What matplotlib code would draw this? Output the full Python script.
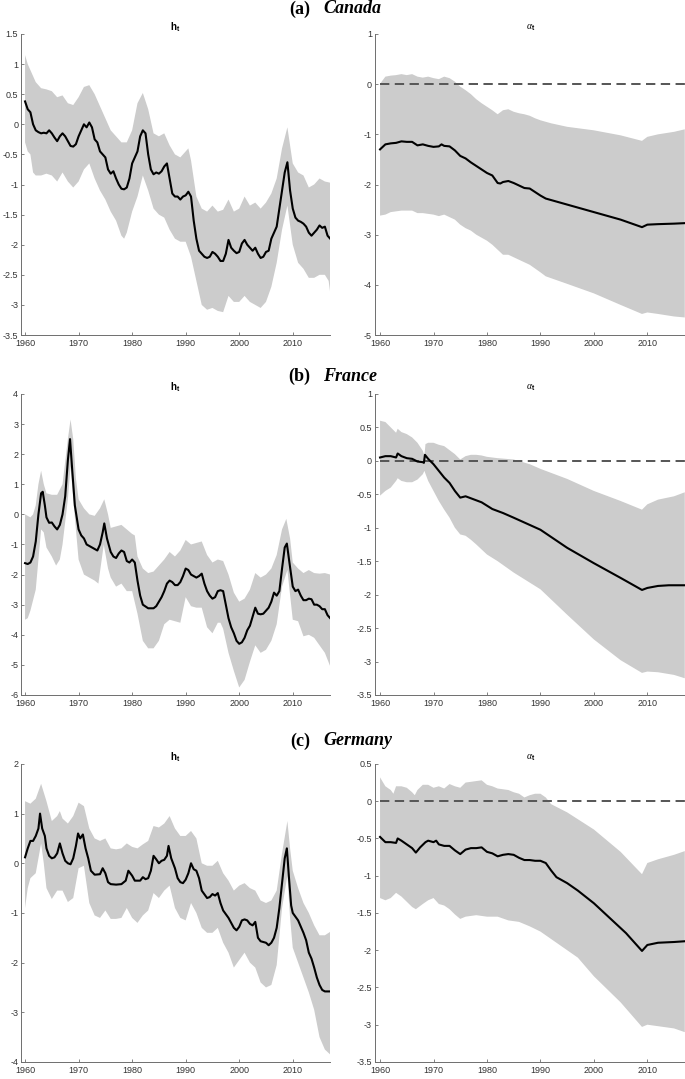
import numpy as np
import matplotlib
matplotlib.use("Agg")
import matplotlib.pyplot as plt

plt.rcParams['font.family'] = ['Liberation Sans', 'DejaVu Sans']
plt.rcParams['axes.unicode_minus'] = False
plt.rcParams['mathtext.fontset'] = 'custom'
plt.rcParams['mathtext.rm'] = 'Liberation Serif:italic'
plt.rcParams['mathtext.it'] = 'Liberation Serif:italic'
plt.rcParams['mathtext.sf'] = 'Liberation Sans:bold'
plt.rcParams['mathtext.bf'] = 'Liberation Sans:bold'

# ---- data: (year, value) ----
can_h_med = [(1960, 0.38), (1960.5, 0.25), (1961, 0.2), (1961.5, 0.0), (1962, -0.1), (1962.5, -0.13),
             (1963, -0.15), (1963.5, -0.14), (1964, -0.15), (1964.5, -0.1), (1965, -0.15), (1965.5, -0.22),
             (1966, -0.28), (1966.5, -0.2), (1967, -0.15), (1967.5, -0.2), (1968, -0.28), (1968.5, -0.36),
             (1969, -0.37), (1969.5, -0.33), (1970, -0.2), (1970.5, -0.1), (1971, 0.0), (1971.5, -0.05),
             (1972, 0.03), (1972.5, -0.05), (1973, -0.25), (1973.5, -0.3), (1974, -0.45), (1975, -0.55),
             (1975.5, -0.75), (1976, -0.82), (1976.5, -0.78), (1977, -0.9), (1977.5, -1.0), (1978, -1.07),
             (1978.5, -1.08), (1979, -1.05), (1979.5, -0.9), (1980, -0.65), (1980.5, -0.55), (1981, -0.45),
             (1981.5, -0.2), (1982, -0.1), (1982.5, -0.15), (1983, -0.5), (1983.5, -0.75), (1984, -0.83),
             (1984.5, -0.8), (1985, -0.82), (1985.5, -0.78), (1986, -0.7), (1986.5, -0.65), (1987, -0.9),
             (1987.5, -1.15), (1988, -1.2), (1988.5, -1.2), (1989, -1.25), (1989.5, -1.2), (1990, -1.18),
             (1990.5, -1.12), (1991, -1.2), (1991.5, -1.6), (1992, -1.9), (1992.5, -2.1), (1993, -2.15),
             (1993.5, -2.2), (1994, -2.22), (1994.5, -2.2), (1995, -2.12), (1995.5, -2.15), (1996, -2.2),
             (1996.5, -2.27), (1997, -2.27), (1997.5, -2.15), (1998, -1.92), (1998.5, -2.05), (1999, -2.1),
             (1999.5, -2.14), (2000, -2.12), (2000.5, -1.98), (2001, -1.92), (2001.5, -2.0), (2002, -2.05),
             (2002.5, -2.1), (2003, -2.05), (2003.5, -2.15), (2004, -2.22), (2004.5, -2.2), (2005, -2.12),
             (2005.5, -2.1), (2006, -1.9), (2006.5, -1.8), (2007, -1.7), (2007.5, -1.4), (2008, -1.1),
             (2008.5, -0.8), (2009, -0.63), (2009.5, -1.1), (2010, -1.4), (2010.5, -1.55), (2011, -1.6),
             (2011.5, -1.62), (2012, -1.65), (2012.5, -1.7), (2013, -1.8), (2013.5, -1.85), (2014, -1.8),
             (2014.5, -1.75), (2015, -1.68), (2015.5, -1.72), (2016, -1.7), (2016.5, -1.85), (2017, -1.9)]
can_h_up = [(1960, 1.15), (1960.5, 1.0), (1961, 0.9), (1962, 0.7), (1963, 0.6), (1964, 0.58), (1965, 0.55),
            (1966, 0.45), (1967, 0.48), (1968, 0.35), (1969, 0.32), (1970, 0.45), (1971, 0.62), (1972, 0.65),
            (1973, 0.5), (1974, 0.3), (1975, 0.1), (1976, -0.1), (1977, -0.2), (1978, -0.3), (1979, -0.3),
            (1980, -0.1), (1981, 0.35), (1982, 0.52), (1983, 0.25), (1984, -0.15), (1985, -0.2), (1986, -0.15),
            (1987, -0.35), (1988, -0.5), (1989, -0.55), (1990, -0.45), (1990.5, -0.4), (1991, -0.6),
            (1992, -1.2), (1993, -1.4), (1994, -1.45), (1995, -1.35), (1996, -1.45), (1997, -1.42),
            (1998, -1.25), (1999, -1.45), (2000, -1.4), (2001, -1.2), (2002, -1.35), (2003, -1.3),
            (2004, -1.4), (2005, -1.3), (2006, -1.15), (2007, -0.9), (2008, -0.4), (2009, -0.05),
            (2010, -0.65), (2011, -0.8), (2012, -0.85), (2013, -1.05), (2014, -1.0), (2015, -0.9),
            (2016, -0.95), (2017, -0.97)]
can_h_lo = [(1960, -0.3), (1960.5, -0.45), (1961, -0.5), (1961.5, -0.8), (1962, -0.85), (1963, -0.85),
            (1964, -0.82), (1965, -0.85), (1966, -0.95), (1967, -0.8), (1968, -0.95), (1969, -1.05),
            (1970, -0.95), (1971, -0.75), (1972, -0.65), (1973, -0.9), (1974, -1.1), (1975, -1.25),
            (1976, -1.45), (1977, -1.6), (1978, -1.85), (1978.5, -1.9), (1979, -1.8), (1980, -1.45),
            (1981, -1.2), (1982, -0.85), (1983, -1.1), (1984, -1.4), (1985, -1.5), (1986, -1.55),
            (1987, -1.75), (1988, -1.9), (1989, -1.95), (1990, -1.95), (1991, -2.2), (1992, -2.6),
            (1993, -3.0), (1994, -3.08), (1995, -3.05), (1996, -3.1), (1997, -3.12), (1998, -2.85),
            (1999, -2.95), (2000, -2.95), (2001, -2.85), (2002, -2.95), (2003, -3.0), (2004, -3.05),
            (2005, -2.95), (2006, -2.7), (2007, -2.3), (2008, -1.75), (2009, -1.35), (2010, -2.0),
            (2011, -2.3), (2012, -2.4), (2013, -2.55), (2014, -2.55), (2015, -2.5), (2016, -2.5),
            (2016.7, -2.6), (2017, -2.8)]

can_a_med = [(1960, -1.3), (1961, -1.2), (1962, -1.18), (1963, -1.17), (1964, -1.14), (1965, -1.15),
             (1966, -1.15), (1967, -1.22), (1968, -1.2), (1969, -1.23), (1970, -1.25), (1971, -1.24),
             (1971.5, -1.2), (1972, -1.23), (1973, -1.24), (1974, -1.32), (1975, -1.43), (1976, -1.48),
             (1977, -1.56), (1978, -1.63), (1979, -1.7), (1980, -1.77), (1981, -1.82), (1982, -1.97),
             (1982.5, -1.98), (1983, -1.95), (1984, -1.93), (1985, -1.97), (1986, -2.02), (1987, -2.07),
             (1988, -2.08), (1989, -2.15), (1990, -2.22), (1991, -2.28), (1995, -2.4), (2000, -2.55),
             (2005, -2.7), (2009, -2.85), (2010, -2.8), (2012, -2.79), (2015, -2.78), (2017, -2.77)]
can_a_up = [(1960, 0.0), (1960.3, 0.05), (1961, 0.15), (1962, 0.17), (1963, 0.18), (1964, 0.2), (1965, 0.18),
            (1966, 0.2), (1967, 0.15), (1968, 0.13), (1969, 0.15), (1970, 0.12), (1971, 0.1), (1972, 0.15),
            (1973, 0.12), (1974, 0.05), (1975, -0.05), (1976, -0.12), (1977, -0.2), (1978, -0.3),
            (1979, -0.38), (1980, -0.45), (1981, -0.52), (1982, -0.6), (1983, -0.52), (1984, -0.5),
            (1985, -0.55), (1986, -0.58), (1987, -0.6), (1988, -0.63), (1989, -0.68), (1990, -0.72),
            (1992, -0.78), (1995, -0.85), (2000, -0.92), (2005, -1.02), (2009, -1.13), (2010, -1.05),
            (2012, -1.0), (2015, -0.95), (2017, -0.9)]
can_a_lo = [(1960, -2.62), (1961, -2.6), (1962, -2.55), (1964, -2.52), (1966, -2.52), (1967, -2.57),
            (1968, -2.57), (1970, -2.6), (1971, -2.63), (1972, -2.6), (1973, -2.65), (1974, -2.7),
            (1975, -2.8), (1976, -2.87), (1977, -2.92), (1978, -3.0), (1980, -3.12), (1981, -3.2),
            (1982, -3.3), (1983, -3.4), (1984, -3.4), (1985, -3.45), (1987, -3.55), (1988, -3.6),
            (1990, -3.75), (1991, -3.83), (1995, -3.98), (2000, -4.17), (2005, -4.4), (2009, -4.58),
            (2010, -4.55), (2012, -4.58), (2015, -4.63), (2017, -4.65)]

fra_h_med = [(1960, -1.62), (1960.5, -1.65), (1961, -1.6), (1961.5, -1.4), (1962, -0.9), (1962.5, 0.0),
             (1963, 0.7), (1963.3, 0.75), (1963.7, 0.3), (1964, -0.1), (1964.5, -0.28), (1965, -0.27),
             (1965.5, -0.4), (1966, -0.5), (1966.5, -0.35), (1967, 0.0), (1967.5, 0.6), (1968, 1.8),
             (1968.4, 2.5), (1968.8, 1.5), (1969.3, 0.3), (1970, -0.5), (1970.5, -0.7), (1971, -0.8),
             (1971.5, -1.0), (1972, -1.05), (1973, -1.15), (1973.5, -1.2), (1974, -1.0), (1974.5, -0.6),
             (1974.8, -0.3), (1975.3, -0.8), (1976, -1.25), (1976.5, -1.4), (1977, -1.45), (1977.5, -1.3),
             (1978, -1.2), (1978.5, -1.25), (1979, -1.55), (1979.5, -1.6), (1980, -1.5), (1980.5, -1.6),
             (1981, -2.2), (1981.5, -2.7), (1982, -3.0), (1983, -3.12), (1984, -3.12), (1984.5, -3.05),
             (1985, -2.9), (1985.5, -2.75), (1986, -2.55), (1986.5, -2.3), (1987, -2.2), (1987.5, -2.25),
             (1988, -2.35), (1988.5, -2.35), (1989, -2.25), (1989.5, -2.05), (1990, -1.8), (1990.5, -1.85),
             (1991, -2.0), (1991.5, -2.05), (1992, -2.1), (1992.5, -2.05), (1993, -1.97), (1993.5, -2.3),
             (1994, -2.55), (1994.5, -2.7), (1995, -2.8), (1995.5, -2.75), (1996, -2.55), (1996.5, -2.52),
             (1997, -2.55), (1997.5, -3.0), (1998, -3.45), (1998.5, -3.75), (1999, -3.95), (1999.5, -4.2),
             (2000, -4.3), (2000.5, -4.25), (2001, -4.1), (2001.5, -3.85), (2002, -3.7), (2002.5, -3.4),
             (2003, -3.1), (2003.5, -3.3), (2004, -3.32), (2004.5, -3.3), (2005, -3.2), (2005.5, -3.1),
             (2006, -2.9), (2006.5, -2.6), (2007, -2.7), (2007.5, -2.55), (2008, -1.8), (2008.5, -1.1),
             (2008.9, -0.97), (2009.3, -1.5), (2010, -2.4), (2010.5, -2.55), (2011, -2.5), (2011.5, -2.7),
             (2012, -2.85), (2012.5, -2.85), (2013, -2.8), (2013.5, -2.82), (2014, -3.0), (2014.5, -3.0),
             (2015, -3.05), (2015.5, -3.15), (2016, -3.15), (2016.5, -3.35), (2017, -3.45)]
fra_h_up = [(1960, 0.0), (1961, -0.1), (1961.5, 0.0), (1962, 0.3), (1962.5, 1.0), (1963, 1.45), (1963.5, 1.0),
            (1964, 0.7), (1965, 0.65), (1966, 0.65), (1967, 1.0), (1968, 2.5), (1968.5, 3.15), (1969, 2.5),
            (1969.5, 1.2), (1970, 0.5), (1971, 0.2), (1972, 0.0), (1973, -0.05), (1974, 0.2), (1974.8, 0.5),
            (1975.5, 0.0), (1976, -0.45), (1977, -0.4), (1978, -0.35), (1979, -0.5), (1980, -0.65),
            (1980.5, -0.7), (1981, -1.4), (1982, -1.8), (1983, -1.95), (1984, -1.9), (1985, -1.7),
            (1986, -1.5), (1987, -1.25), (1988, -1.4), (1989, -1.2), (1990, -0.85), (1991, -1.0),
            (1992, -0.95), (1993, -0.9), (1994, -1.35), (1995, -1.6), (1996, -1.5), (1997, -1.55),
            (1998, -2.0), (1999, -2.6), (2000, -2.9), (2001, -2.8), (2002, -2.5), (2003, -1.95),
            (2004, -2.1), (2005, -2.0), (2006, -1.8), (2007, -1.35), (2008, -0.5), (2008.8, -0.15),
            (2009.5, -0.8), (2010, -1.6), (2011, -1.8), (2012, -1.95), (2013, -1.85), (2014, -1.95),
            (2015, -1.97), (2016, -1.95), (2017, -2.0)]
fra_h_lo = [(1960, -3.5), (1960.5, -3.45), (1961, -3.2), (1962, -2.5), (1963, -0.5), (1963.5, -0.6),
            (1964, -1.1), (1965, -1.4), (1965.8, -1.7), (1966.5, -1.5), (1967, -1.0), (1968, 0.5),
            (1968.5, 1.6), (1969, 0.5), (1970, -1.5), (1971, -2.0), (1972, -2.1), (1973, -2.2),
            (1973.7, -2.3), (1974.7, -1.0), (1975.5, -1.8), (1976, -2.1), (1977, -2.4), (1978, -2.3),
            (1979, -2.55), (1980, -2.55), (1981, -3.3), (1982, -4.2), (1983, -4.45), (1984, -4.45),
            (1985, -4.2), (1986, -3.65), (1987, -3.5), (1988, -3.55), (1989, -3.6), (1990, -2.75),
            (1991, -3.05), (1992, -3.1), (1993, -3.1), (1994, -3.75), (1995, -3.95), (1996, -3.6),
            (1996.5, -3.6), (1997, -3.8), (1998, -4.6), (1999, -5.2), (2000, -5.75), (2001, -5.5),
            (2002, -4.9), (2003, -4.35), (2004, -4.6), (2005, -4.5), (2006, -4.2), (2007, -3.65),
            (2008, -2.4), (2009, -1.85), (2010, -3.5), (2011, -3.55), (2012, -4.05), (2013, -4.0),
            (2014, -4.1), (2015, -4.35), (2016, -4.6), (2017, -5.05)]

fra_a_med = [(1960, 0.05), (1961, 0.07), (1962, 0.07), (1963, 0.05), (1963.3, 0.11), (1964, 0.07),
             (1965, 0.04), (1966, 0.03), (1967, -0.01), (1968, -0.02), (1968.2, -0.03), (1968.4, 0.09),
             (1969, 0.03), (1970, -0.05), (1971, -0.15), (1972, -0.25), (1973, -0.33), (1974, -0.45),
             (1975, -0.55), (1976, -0.53), (1977, -0.56), (1978, -0.59), (1979, -0.62), (1980, -0.67),
             (1981, -0.72), (1983, -0.78), (1985, -0.85), (1990, -1.03), (1995, -1.3), (2000, -1.53),
             (2005, -1.75), (2009, -1.93), (2010, -1.9), (2012, -1.87), (2014, -1.86), (2017, -1.86)]
fra_a_up = [(1960, 0.6), (1961, 0.58), (1962, 0.5), (1963, 0.42), (1963.3, 0.48), (1964, 0.43), (1965, 0.4),
            (1966, 0.35), (1967, 0.27), (1968, 0.15), (1968.3, 0.08), (1968.5, 0.25), (1969, 0.27),
            (1970, 0.27), (1971, 0.24), (1972, 0.22), (1973, 0.16), (1974, 0.1), (1975, 0.02), (1976, 0.07),
            (1977, 0.09), (1978, 0.09), (1979, 0.08), (1980, 0.06), (1982, 0.04), (1985, 0.02),
            (1988, -0.05), (1990, -0.12), (1995, -0.27), (2000, -0.45), (2005, -0.6), (2009, -0.73),
            (2010, -0.65), (2012, -0.58), (2015, -0.53), (2017, -0.47)]
fra_a_lo = [(1960, -0.52), (1961, -0.45), (1962, -0.4), (1963, -0.3), (1963.3, -0.26), (1964, -0.3),
            (1965, -0.32), (1966, -0.32), (1967, -0.28), (1968, -0.2), (1968.3, -0.15), (1969, -0.3),
            (1970, -0.45), (1971, -0.6), (1972, -0.73), (1973, -0.85), (1974, -1.0), (1975, -1.1),
            (1976, -1.12), (1977, -1.18), (1978, -1.25), (1980, -1.4), (1982, -1.5), (1985, -1.67),
            (1990, -1.92), (1995, -2.3), (2000, -2.67), (2005, -2.98), (2009, -3.17), (2010, -3.15),
            (2012, -3.16), (2015, -3.2), (2017, -3.25)]

ger_h_med = [(1960, 0.12), (1960.5, 0.3), (1961, 0.45), (1961.5, 0.45), (1962, 0.55), (1962.5, 0.7),
             (1962.8, 1.0), (1963.2, 0.7), (1963.7, 0.55), (1964, 0.3), (1964.5, 0.15), (1965, 0.1),
             (1965.5, 0.12), (1966, 0.2), (1966.5, 0.4), (1967, 0.2), (1967.5, 0.05), (1968, 0.0),
             (1968.5, -0.02), (1969, 0.1), (1969.5, 0.35), (1969.9, 0.6), (1970.3, 0.5), (1970.8, 0.58),
             (1971.3, 0.3), (1971.8, 0.1), (1972.3, -0.15), (1973, -0.23), (1974, -0.22), (1974.5, -0.1),
             (1975, -0.2), (1975.5, -0.38), (1976, -0.42), (1977, -0.43), (1978, -0.42), (1978.8, -0.35),
             (1979.3, -0.15), (1980, -0.25), (1980.5, -0.35), (1981.5, -0.35), (1982, -0.28), (1982.5, -0.32),
             (1983, -0.3), (1983.5, -0.15), (1984, 0.15), (1984.5, 0.08), (1985, 0.0), (1985.5, 0.05),
             (1986, 0.07), (1986.5, 0.15), (1986.8, 0.35), (1987.3, 0.1), (1988, -0.1), (1988.5, -0.3),
             (1989, -0.38), (1989.5, -0.4), (1990, -0.33), (1990.5, -0.2), (1991, 0.0), (1991.5, -0.12),
             (1992, -0.15), (1992.5, -0.3), (1993, -0.55), (1994, -0.7), (1994.5, -0.68), (1995, -0.62),
             (1995.5, -0.65), (1996, -0.6), (1996.5, -0.8), (1997, -0.95), (1998, -1.1), (1999, -1.3),
             (1999.5, -1.35), (2000, -1.28), (2000.5, -1.15), (2001, -1.13), (2001.5, -1.15), (2002, -1.22),
             (2002.5, -1.25), (2003, -1.18), (2003.5, -1.5), (2004, -1.57), (2005, -1.6), (2005.5, -1.65),
             (2006, -1.6), (2006.5, -1.5), (2007, -1.3), (2007.5, -0.9), (2008, -0.4), (2008.5, 0.1),
             (2008.9, 0.3), (2009.3, -0.3), (2009.7, -0.85), (2010, -1.0), (2011, -1.15), (2012, -1.4),
             (2012.5, -1.55), (2013, -1.8), (2013.5, -1.92), (2014, -2.1), (2014.5, -2.3), (2015, -2.45),
             (2015.5, -2.55), (2016, -2.58), (2017, -2.58)]
ger_h_up = [(1960, 1.25), (1961, 1.2), (1962, 1.3), (1963, 1.6), (1964, 1.25), (1965, 0.85), (1966, 0.95),
            (1966.5, 1.05), (1967, 0.9), (1968, 0.8), (1969, 0.95), (1970, 1.22), (1971, 1.15), (1972, 0.7),
            (1973, 0.5), (1974, 0.45), (1975, 0.5), (1976, 0.3), (1977, 0.28), (1978, 0.3), (1979, 0.4),
            (1980, 0.33), (1981, 0.3), (1982, 0.38), (1983, 0.45), (1984, 0.75), (1985, 0.72), (1986, 0.8),
            (1987, 0.95), (1988, 0.7), (1989, 0.55), (1990, 0.55), (1991, 0.65), (1992, 0.5), (1993, 0.0),
            (1994, -0.05), (1995, -0.05), (1996, 0.05), (1997, -0.2), (1998, -0.35), (1999, -0.55),
            (2000, -0.45), (2001, -0.4), (2002, -0.5), (2003, -0.55), (2004, -0.75), (2005, -0.8),
            (2006, -0.75), (2007, -0.55), (2008, 0.2), (2009, 0.85), (2009.5, 0.3), (2010, -0.15),
            (2011, -0.5), (2012, -0.8), (2013, -1.0), (2014, -1.25), (2015, -1.45), (2016, -1.45),
            (2017, -1.38)]
ger_h_lo = [(1960, -0.9), (1960.5, -0.5), (1961, -0.3), (1962, -0.2), (1963, 0.4), (1963.5, 0.0),
            (1964, -0.5), (1965, -0.72), (1966, -0.55), (1967, -0.55), (1968, -0.78), (1969, -0.7),
            (1970, -0.1), (1971, -0.05), (1972, -0.8), (1973, -1.05), (1974, -1.1), (1975, -0.95),
            (1976, -1.12), (1977, -1.12), (1978, -1.1), (1979, -0.9), (1980, -1.1), (1981, -1.2),
            (1982, -1.05), (1983, -0.95), (1984, -0.6), (1985, -0.7), (1986, -0.55), (1987, -0.45),
            (1988, -0.9), (1989, -1.1), (1990, -1.15), (1991, -0.8), (1992, -1.0), (1993, -1.3),
            (1994, -1.4), (1995, -1.4), (1996, -1.3), (1997, -1.6), (1998, -1.8), (1999, -2.1),
            (2000, -1.95), (2001, -1.8), (2002, -2.0), (2003, -2.1), (2004, -2.4), (2005, -2.5),
            (2006, -2.45), (2007, -2.05), (2008, -0.9), (2009, -0.25), (2009.5, -1.1), (2010, -1.7),
            (2011, -2.0), (2012, -2.3), (2013, -2.6), (2014, -2.95), (2015, -3.5), (2016, -3.75),
            (2017, -3.85)]

ger_a_med = [(1960, -0.48), (1961, -0.55), (1962, -0.55), (1963, -0.56), (1963.3, -0.5), (1964, -0.53),
             (1965, -0.58), (1966, -0.63), (1966.7, -0.69), (1967.5, -0.62), (1968.5, -0.55), (1969, -0.53),
             (1970, -0.55), (1970.5, -0.53), (1971, -0.58), (1972, -0.6), (1973, -0.6), (1974, -0.66),
             (1975, -0.71), (1976, -0.65), (1977, -0.63), (1978, -0.63), (1979, -0.62), (1980, -0.68),
             (1981, -0.7), (1982, -0.74), (1983, -0.72), (1984, -0.71), (1985, -0.72), (1986, -0.76),
             (1987, -0.79), (1988, -0.79), (1989, -0.8), (1990, -0.8), (1991, -0.83), (1992, -0.93),
             (1993, -1.02), (1995, -1.1), (1997, -1.2), (2000, -1.37), (2003, -1.57), (2006, -1.77),
             (2009, -2.01), (2010, -1.93), (2012, -1.9), (2015, -1.89), (2017, -1.88)]
ger_a_up = [(1960, 0.32), (1961, 0.2), (1962, 0.15), (1962.5, 0.1), (1963, 0.2), (1964, 0.2), (1965, 0.18),
            (1966, 0.12), (1966.5, 0.08), (1967, 0.15), (1968, 0.22), (1969, 0.22), (1970, 0.18), (1971, 0.2),
            (1972, 0.17), (1973, 0.23), (1974, 0.2), (1975, 0.18), (1976, 0.25), (1977, 0.26), (1978, 0.27),
            (1979, 0.28), (1980, 0.22), (1981, 0.2), (1982, 0.17), (1983, 0.16), (1984, 0.15), (1985, 0.12),
            (1986, 0.1), (1987, 0.05), (1988, 0.08), (1989, 0.1), (1990, 0.1), (1991, 0.05), (1992, -0.04),
            (1995, -0.15), (2000, -0.38), (2005, -0.68), (2009, -0.98), (2010, -0.83), (2012, -0.78),
            (2015, -0.72), (2017, -0.67)]
ger_a_lo = [(1960, -1.3), (1961, -1.33), (1962, -1.3), (1963, -1.23), (1964, -1.28), (1965, -1.35),
            (1966, -1.42), (1966.7, -1.45), (1968, -1.38), (1969, -1.33), (1970, -1.3), (1971, -1.38),
            (1972, -1.4), (1973, -1.45), (1974, -1.52), (1975, -1.58), (1976, -1.55), (1978, -1.53),
            (1980, -1.55), (1982, -1.55), (1984, -1.6), (1986, -1.62), (1988, -1.68), (1990, -1.75),
            (1992, -1.85), (1994, -1.95), (1997, -2.1), (2000, -2.35), (2005, -2.7), (2009, -3.03),
            (2010, -3.0), (2012, -3.02), (2015, -3.05), (2017, -3.1)]

titles = [("(a)", "Canada"), ("(b)", "France"), ("(c)", "Germany")]
h_ylims = [(-3.5, 1.5), (-6, 4), (-4, 2)]
h_steps = [0.5, 1, 1]
a_ylims = [(-5, 1), (-3.5, 1), (-3.5, 0.5)]
a_steps = [1, 0.5, 0.5]
year_ticks = [1960, 1970, 1980, 1990, 2000, 2010]

h_data = [(can_h_med, can_h_up, can_h_lo), (fra_h_med, fra_h_up, fra_h_lo), (ger_h_med, ger_h_up, ger_h_lo)]
a_data = [(can_a_med, can_a_up, can_a_lo), (fra_a_med, fra_a_up, fra_a_lo), (ger_a_med, ger_a_up, ger_a_lo)]

band_col = "#cccccc"
axis_col = "#6e6e6e"

fig = plt.figure(figsize=(6.85, 10.79), dpi=100)

row_bottoms = [0.6895, 0.3559, 0.0158]
row_heights = [0.279, 0.279, 0.2762]
title_y = [0.9917, 0.6515, 0.3133]


def draw_panel(ax, series, ylim, step, xlim, zero_line=False):
    med, up, lo = [np.array(s) for s in series]
    ax.fill(np.r_[up[:, 0], lo[::-1, 0]], np.r_[up[:, 1], lo[::-1, 1]],
            color=band_col, lw=0, zorder=1)
    if zero_line:
        ax.plot([med[0, 0], xlim[1]], [0, 0], ls=(0, (4.8, 2.8)), color="#555555", lw=1.4, zorder=2)
    ax.plot(med[:, 0], med[:, 1], color="black", lw=1.5, zorder=3)
    ax.set_xlim(*xlim)
    ax.set_ylim(*ylim)
    ax.set_xticks(year_ticks)
    ax.set_yticks(np.arange(ylim[0], ylim[1] + step / 2, step))
    ax.yaxis.set_major_formatter(matplotlib.ticker.FormatStrFormatter('%g'))
    for s in ["top", "right"]:
        ax.spines[s].set_visible(False)
    for s in ["left", "bottom"]:
        ax.spines[s].set_color(axis_col)
        ax.spines[s].set_linewidth(0.7)
    ax.tick_params(direction="in", length=2.5, width=0.6, color=axis_col,
                   labelsize=6.5, labelcolor="#333333")
    ax.tick_params(axis="x", pad=3.2)
    ax.tick_params(axis="y", pad=2)


for i in range(3):
    axl = fig.add_axes([0.0307, row_bottoms[i], 0.451, row_heights[i]])
    draw_panel(axl, h_data[i], h_ylims[i], h_steps[i], (1959.25, 2016.95))
    axl.set_title(r"$\mathsf{h_t}$", fontsize=7, pad=3)

    axr = fig.add_axes([0.547, row_bottoms[i], 0.455, row_heights[i]])
    draw_panel(axr, a_data[i], a_ylims[i], a_steps[i], (1959.0, 2017.3), zero_line=True)
    axr.set_title(r"$\alpha_{\mathsf{t}}$", fontsize=7, pad=3)

    fig.text(0.453, title_y[i], titles[i][0], ha="right", va="center",
             family="Liberation Serif", weight="bold", fontsize=13)
    fig.text(0.472, title_y[i], titles[i][1], ha="left", va="center",
             family="Liberation Serif", weight="bold", style="italic", fontsize=13)

fig.savefig("out.png", dpi=100)
